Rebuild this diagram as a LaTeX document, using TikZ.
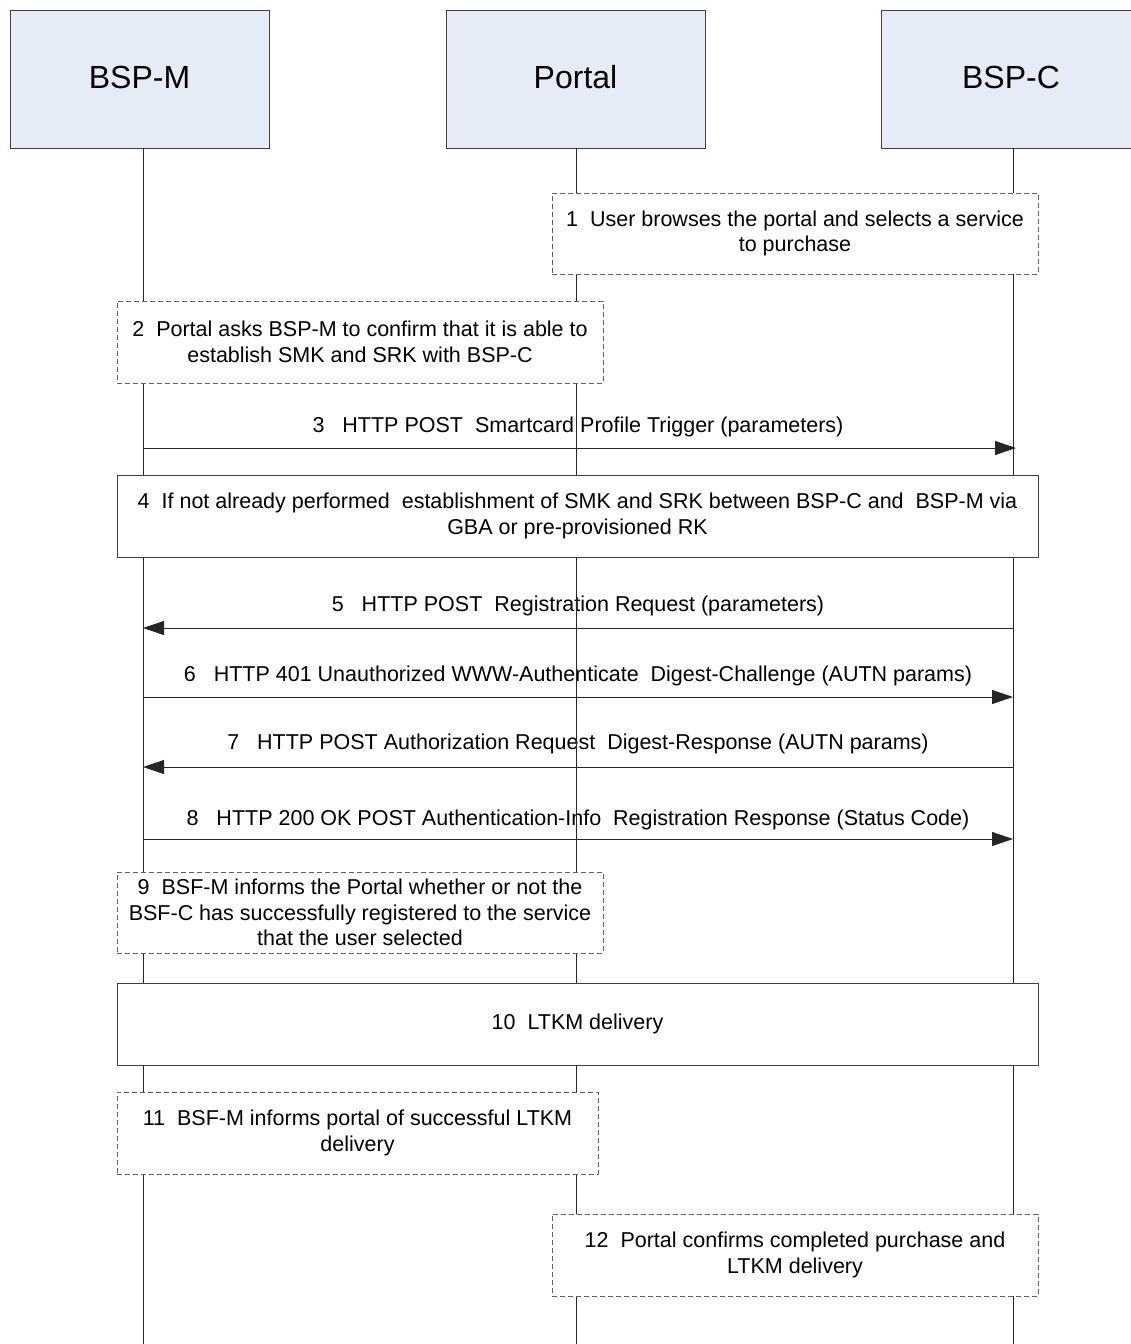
\documentclass[tikz,border=0pt]{standalone}
\usepackage{fontspec}
\setmainfont{Liberation Sans}
\usetikzlibrary{arrows.meta}
\definecolor{headblue}{HTML}{E6ECF7}
\definecolor{edgegray}{HTML}{404040}
\definecolor{dashgray}{HTML}{606060}
\begin{document}
\begin{tikzpicture}[x=1pt,y=-1pt,
  head/.style={draw=edgegray, fill=headblue, minimum width=259pt, minimum height=138pt, inner sep=0pt, line width=0.8pt, text height=23pt, text depth=5pt, font=\fontsize{32}{38}\selectfont},
  note/.style={draw=dashgray, dash pattern=on 5pt off 3pt, fill=white, line width=0.8pt, inner sep=0pt, align=center, font=\fontsize{21.5}{25.5}\selectfont},
  act/.style={draw=edgegray, fill=white, line width=0.8pt, inner sep=0pt, align=center, font=\fontsize{21.5}{25.5}\selectfont},
  msg/.style={-{Triangle[length=21pt,width=14pt]}, line width=0.8pt, draw=black!85},
  lbl/.style={inner sep=0pt, font=\fontsize{21.5}{25.5}\selectfont},
  life/.style={line width=0.8pt, draw=black!85}]
\useasboundingbox (0,0) rectangle (1131,1344);
\clip (0,0) rectangle (1131,1344);

% header boxes
\node[head] (bspm) at (139.5,79) {BSP-M};
\node[head] (portal) at (575.5,79) {Portal};
\node[head] (bspc) at (1011,79) {BSP-C};

% lifeline ends
\coordinate (mEnd) at (143,1344);
\coordinate (pEnd) at (576,1344);
\coordinate (cEnd) at (1013,1344);

% message labels (drawn under the lifelines)
\node[lbl] (l3) at (578,427) {3~~~HTTP POST~~Smartcard Profile Trigger (parameters)};
\node[lbl] (l5) at (578,605.5) {5~~~HTTP POST~~Registration Request (parameters)};
\node[lbl] (l6) at (578,675.5) {6~~~HTTP 401 Unauthorized WWW-Authenticate~~Digest-Challenge (AUTN params)};
\node[lbl] (l7) at (578,743.5) {7~~~HTTP POST Authorization Request~~Digest-Response (AUTN params)};
\node[lbl] (l8) at (578,819.5) {8~~~HTTP 200 OK POST Authentication-Info~~Registration Response (Status Code)};

% lifelines
\draw[life] (bspm.south -| mEnd) -- (mEnd);
\draw[life] (portal.south -| pEnd) -- (pEnd);
\draw[life] (bspc.south -| cEnd) -- (cEnd);

% message anchor points
\coordinate (m3) at (143,448);  \coordinate (c3) at (1016,448);
\coordinate (m5) at (143,628);  \coordinate (c5) at (1013,628);
\coordinate (m6) at (143,697);  \coordinate (c6) at (1013,697);
\coordinate (m7) at (143,767);  \coordinate (c7) at (1013,767);
\coordinate (m8) at (143,839);  \coordinate (c8) at (1013,839);

\draw[msg] (m3) -- (c3);
\draw[msg] (c5) -- (m5);
\draw[msg] (m6) -- (c6);
\draw[msg] (c7) -- (m7);
\draw[msg] (m8) -- (c8);

% boxes
\node[note, minimum width=486pt, minimum height=81pt] (s1) at (795,233.5)
  {1~~User browses the portal and selects a service\\to purchase};
\node[note, minimum width=486pt, minimum height=82pt] (s2) at (360,342)
  {2~~Portal asks BSP-M to confirm that it is able to\\establish SMK and SRK with BSP-C};
\node[act, minimum width=921pt, minimum height=82pt] (s4) at (577.5,516)
  {4~~If not already performed~~establishment of SMK and SRK between BSP-C and~~BSP-M via\\GBA or pre-provisioned RK};
\node[note, minimum width=486pt, minimum height=81pt] (s9) at (360,912.5)
  {9~~BSF-M informs the Portal whether or not the\\BSF-C has successfully registered to the service\\that the user selected};
\node[act, minimum width=921pt, minimum height=82pt] (s10) at (577.5,1024)
  {10~~LTKM delivery};
\node[note, minimum width=481pt, minimum height=82pt] (s11) at (357.5,1133)
  {11~~BSF-M informs portal of successful LTKM\\delivery};
\node[note, minimum width=486pt, minimum height=82pt] (s12) at (795,1255)
  {12~~Portal confirms completed purchase and\\LTKM delivery};
\end{tikzpicture}
\end{document}
